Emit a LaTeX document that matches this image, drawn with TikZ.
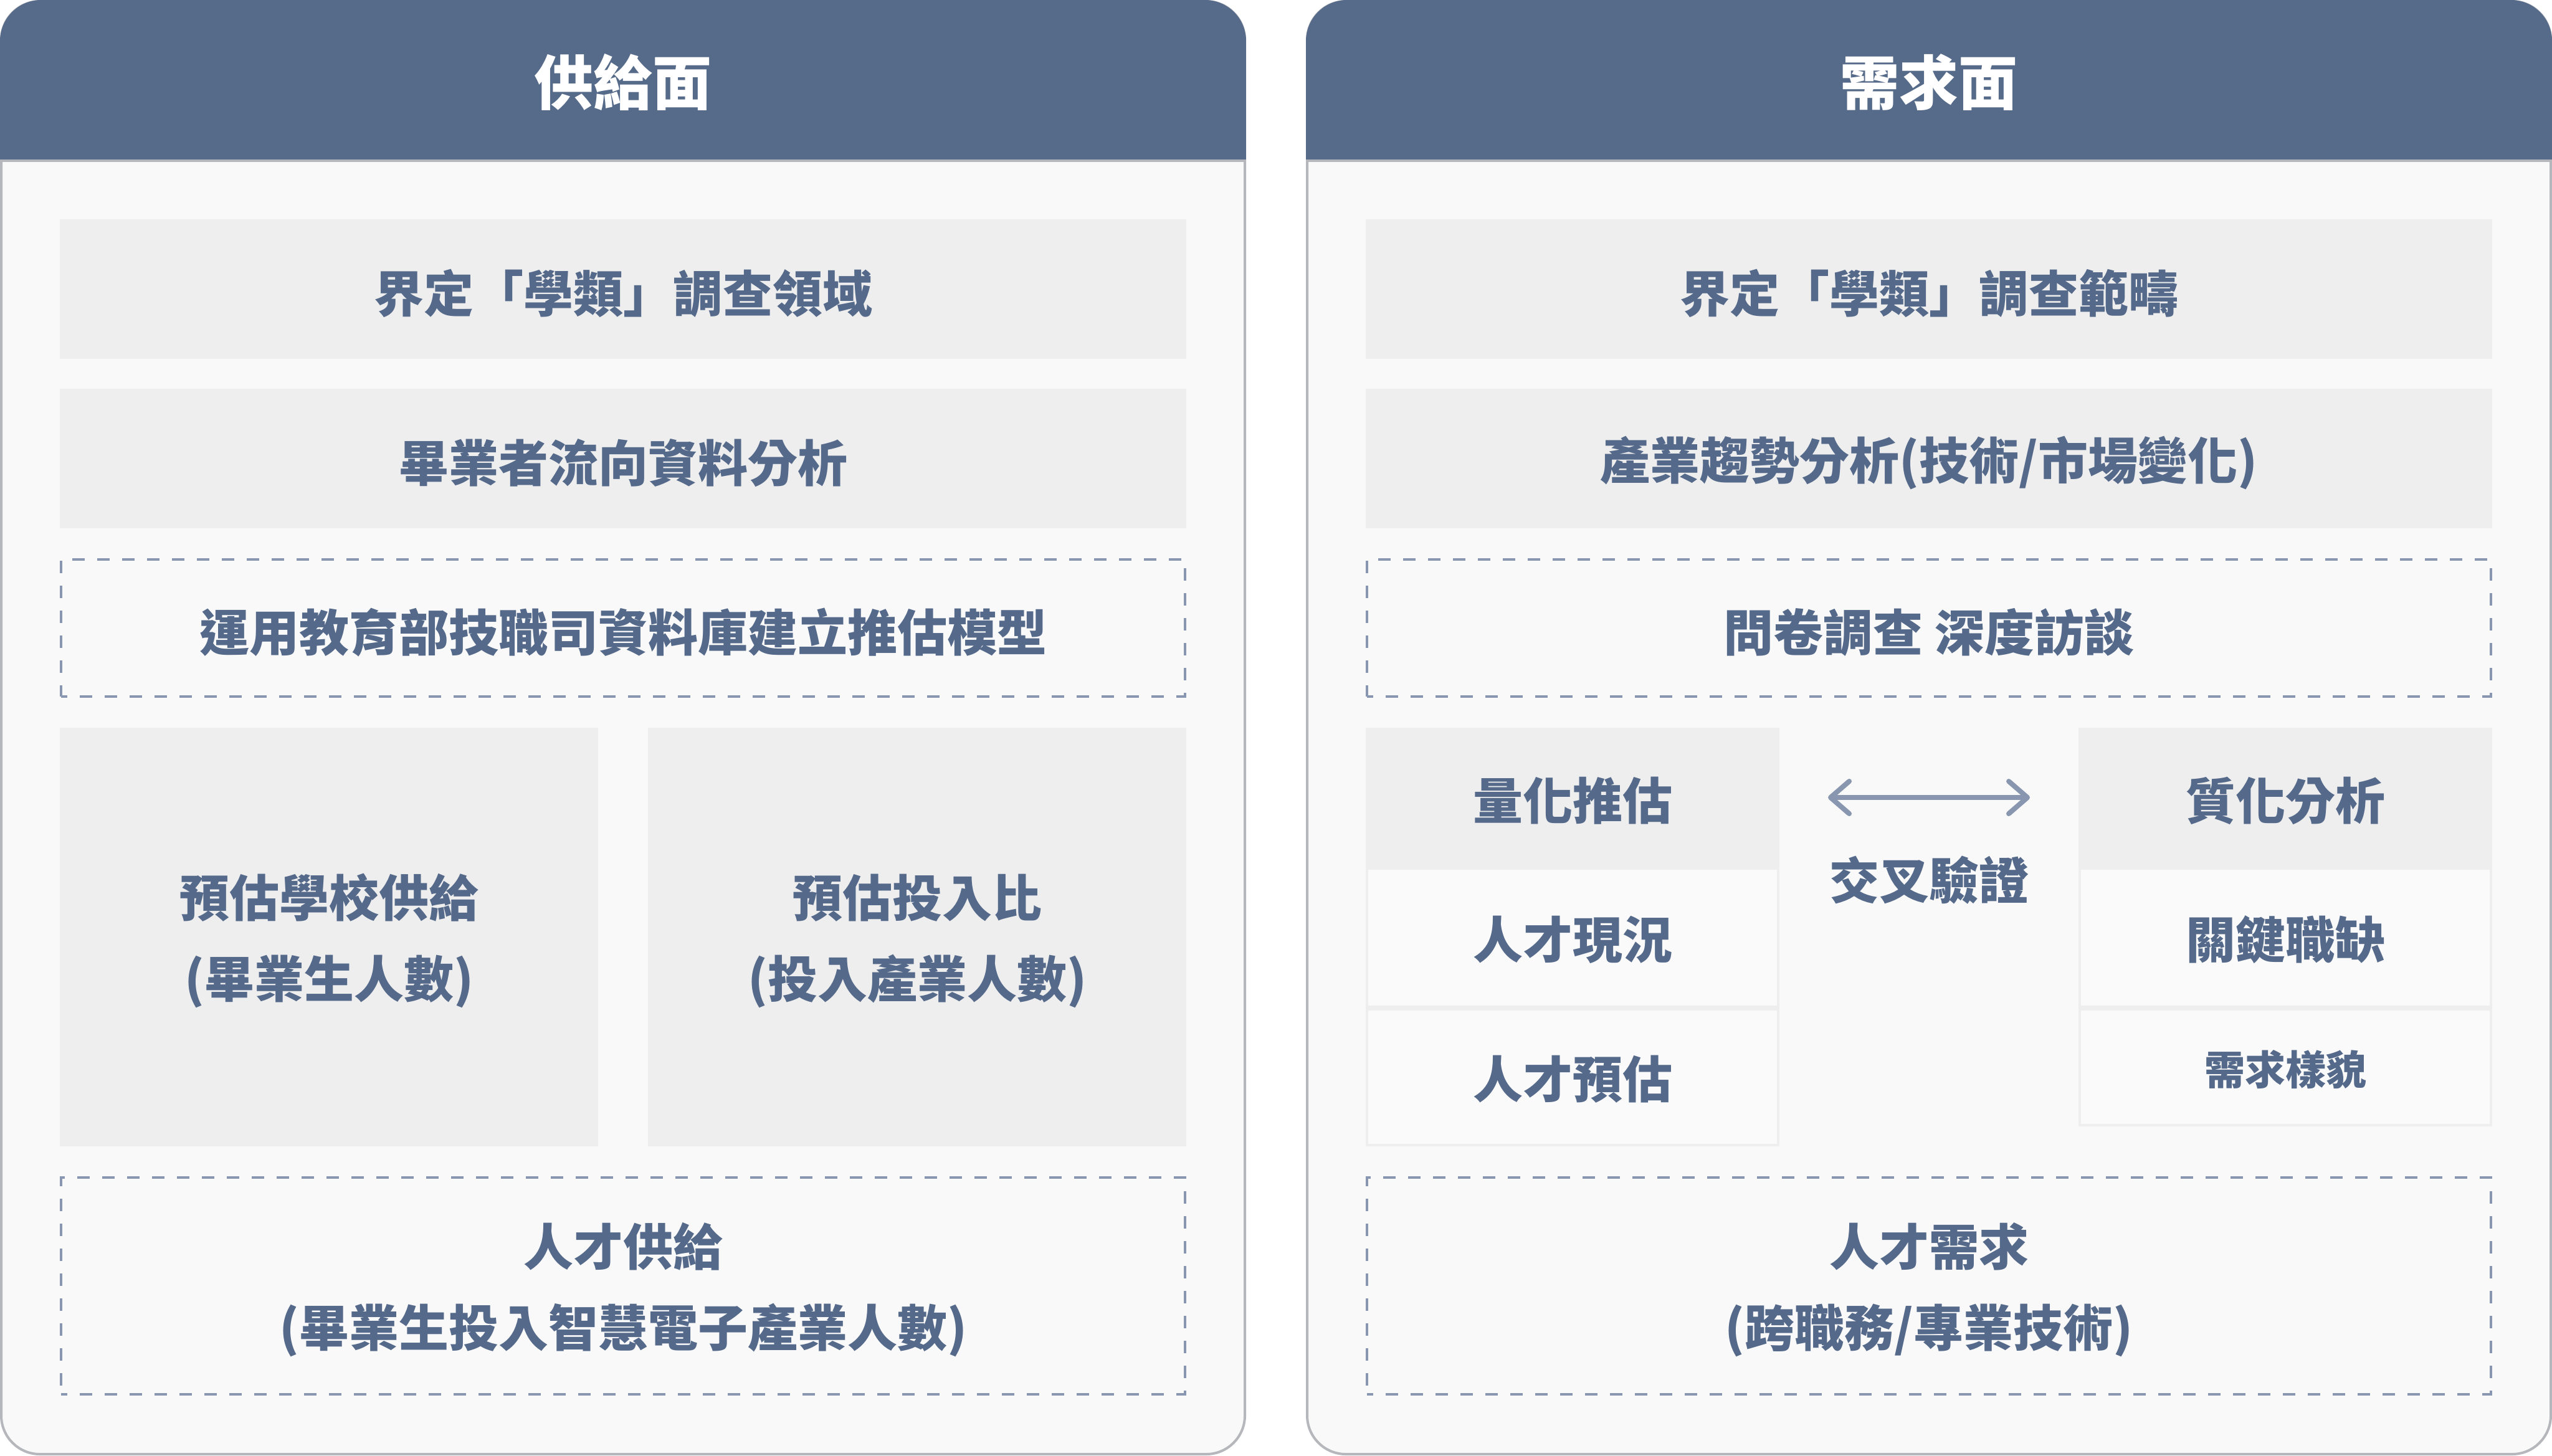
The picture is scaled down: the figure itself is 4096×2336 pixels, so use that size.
\documentclass[tikz,border=0pt]{standalone}
\usepackage{fontspec}
\setmainfont{Noto Sans CJK TC}
\usetikzlibrary{arrows.meta}
\definecolor{hdr}{HTML}{566A8A}
\definecolor{txt}{HTML}{55698A}
\definecolor{pborder}{HTML}{B5B7BC}
\definecolor{pfill}{HTML}{F9F9F9}
\definecolor{boxg}{HTML}{EEEEEE}
\definecolor{cellf}{HTML}{FAFAFA}
\definecolor{dashc}{HTML}{8896AF}
\begin{document}
\begin{tikzpicture}[x=0.25pt,y=-0.25pt,
  every node/.style={inner sep=0pt, outer sep=0pt, text=txt, align=center},
  tfont/.style={font={\bfseries\fontsize{20pt}{32.5pt}\selectfont}},
  sfont/.style={font={\bfseries\fontsize{16.25pt}{20pt}\selectfont}},
  titletext/.style={text=white, font={\bfseries\fontsize{23.75pt}{28pt}\selectfont}},
  panelbox/.style={draw=pborder, fill=pfill, line width=1pt, rounded corners=15.5pt},
  greybox/.style={fill=boxg, minimum width=452pt, minimum height=56pt},
  dashbox/.style={draw=dashc, line width=1pt, dash pattern=on 5pt off 5pt, dash phase=2.5pt, minimum width=451pt, minimum height=55pt},
  tallbox/.style={fill=boxg, minimum width=216pt, minimum height=168pt},
  colhead/.style={fill=boxg, minimum width=166pt, minimum height=57pt},
  cellbox/.style={fill=cellf, draw=boxg, line width=1pt, minimum width=165pt},
  crossarrow/.style={draw=dashc, line width=2pt, line cap=round,
    {Straight Barb[length=7.5pt,width=13pt,round]}-{Straight Barb[length=7.5pt,width=13pt,round]}}
]
\useasboundingbox (0,0) rectangle (4096,2336);
\fill[white] (0,0) rectangle (4096,2336);

% ---------- left panel ----------
\draw[panelbox] (2,2) rectangle (1998,2334);
\begin{scope}
  \clip[rounded corners=16.5pt] (0,0) rectangle (2000,2336);
  \fill[hdr] (0,0) rectangle (2000,256);
  \draw[pborder, line width=1pt] (0,258) -- (2000,258);
\end{scope}
\node[titletext] (Lt) at (1000,132) {供給面};

\node[greybox] (L1) at (1000,464) {};
\node[tfont] (L1t) at (1000,471) {界定「學類」調查領域};
\node[greybox] (L2) at (1000,736) {};
\node[tfont] (L2t) at (1000,743) {畢業者流向資料分析};
\node[dashbox] (L3) at (1000,1008) {};
\node[tfont] (L3t) at (1000,1015) {運用教育部技職司資料庫建立推估模型};
\node[tallbox] (L4a) at (528,1504) {};
\node[tfont] (L4at) at (528,1510) {預估學校供給\\(畢業生人數)};
\node[tallbox] (L4b) at (1472,1504) {};
\node[tfont] (L4bt) at (1472,1510) {預估投入比\\(投入產業人數)};
\node[dashbox, minimum height=87pt] (L5) at (1000,2064) {};
\node[tfont] (L5t) at (1000,2070) {人才供給\\(畢業生投入智慧電子產業人數)};

% ---------- right panel ----------
\draw[panelbox] (2098,2) rectangle (4094,2334);
\begin{scope}
  \clip[rounded corners=16.5pt] (2096,0) rectangle (4096,2336);
  \fill[hdr] (2096,0) rectangle (4096,256);
  \draw[pborder, line width=1pt] (2096,258) -- (4096,258);
\end{scope}
\node[titletext] (Rt) at (3096,132) {需求面};

\node[greybox] (R1) at (3096,464) {};
\node[tfont] (R1t) at (3096,471) {界定「學類」調查範疇};
\node[greybox] (R2) at (3096,736) {};
\node[tfont] (R2t) at (3096,743) {產業趨勢分析(技術/市場變化)};
\node[dashbox] (R3) at (3096,1008) {};
\node[tfont] (R3t) at (3096,1015) {問卷調查 深度訪談};

\node[cellbox, minimum height=55.5pt] (Qa) at (2524,1505) {};
\node[tfont] (Qat) at (2524,1508) {人才現況};
\node[cellbox, minimum height=54.5pt] (Qb) at (2524,1729) {};
\node[tfont] (Qbt) at (2524,1732) {人才預估};
\node[colhead] (Q) at (2524,1282) {};
\node[tfont] (Qt) at (2524,1285) {量化推估};

\node[cellbox, minimum height=55.5pt] (Sa) at (3668,1505) {};
\node[tfont] (Sat) at (3668,1508) {關鍵職缺};
\node[cellbox, minimum height=46.5pt] (Sb) at (3668,1713) {};
\node[sfont] (Sbt) at (3668,1717) {需求樣貌};
\node[colhead] (S) at (3668,1282) {};
\node[tfont] (St) at (3668,1285) {質化分析};

\coordinate (aL) at (2934,1280);
\coordinate (aR) at (3258,1280);
\draw[crossarrow] (aL) -- (aR);
\node[tfont] (X) at (3096,1413) {交叉驗證};

\node[dashbox, minimum height=87pt] (R5) at (3096,2064) {};
\node[tfont] (R5t) at (3096,2070) {人才需求\\(跨職務/專業技術)};
\end{tikzpicture}
\end{document}
